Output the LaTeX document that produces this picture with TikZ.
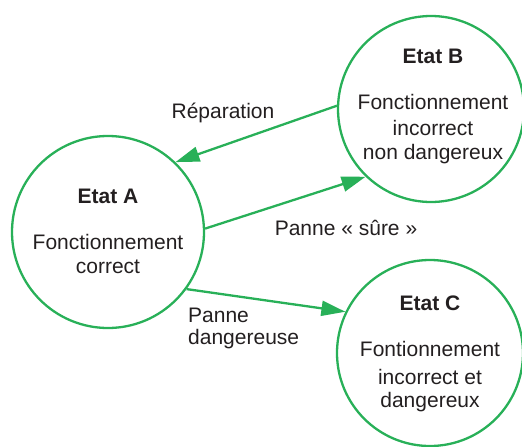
\documentclass[tikz,border=0pt]{standalone}
\usepackage{fontspec}
\setmainfont{Liberation Sans}
\usetikzlibrary{arrows.meta}
\definecolor{grn}{RGB}{40,176,88}
\definecolor{txt}{RGB}{35,31,32}
\tikzset{
  state/.style={circle, draw=grn, line width=2.3pt, inner sep=0pt},
  lbl/.style={text=txt, font=\fontsize{21}{25}\selectfont, inner sep=0pt},
  ttl/.style={text=txt, font=\fontsize{21}{25}\selectfont\bfseries, inner sep=0pt},
  arr/.style={draw=grn, line width=2.3pt, -{Triangle[length=24pt,width=15pt]}}
}
\begin{document}
\begin{tikzpicture}[x=1pt,y=-1pt]
\useasboundingbox (0,0) rectangle (522,447);
\node[state, minimum size=192pt] (A) at (108,232) {};
\node[state, minimum size=186pt] (B) at (431,109) {};
\node[state, minimum size=186pt] (C) at (430,353) {};
% texts A
\node[ttl] (At) at (108,196) {Etat A};
\node[lbl] (A1) at (108,242) {Fonctionnement};
\node[lbl] (A2) at (108,267) {correct};
% texts B
\node[ttl] (Bt) at (433,56) {Etat B};
\node[lbl] (B1) at (433,102) {Fonctionnement};
\node[lbl] (B2) at (433,128) {incorrect};
\node[lbl] (B3) at (433,154) {non dangereux};
% texts C
\node[ttl] (Ct) at (430,303) {Etat C};
\node[lbl] (C1) at (430,349) {Fontionnement};
\node[lbl] (C2) at (430,377) {incorrect et};
\node[lbl] (C3) at (430,402) {dangereux};
% arrows
\draw[arr] (B.178) -- (A.46);
\draw[arr] (A.2) -- (B.226);
\draw[arr] (A.-36.5) -- (C.154);
% labels
\node[lbl] (R) at (223,113) {Réparation};
\node[lbl] (S) at (346,228) {Panne « sûre »};
\node[lbl, anchor=west] (D1) at (188,315) {Panne};
\node[lbl, anchor=west] (D2) at (188,339) {dangereuse};
\end{tikzpicture}
\end{document}
